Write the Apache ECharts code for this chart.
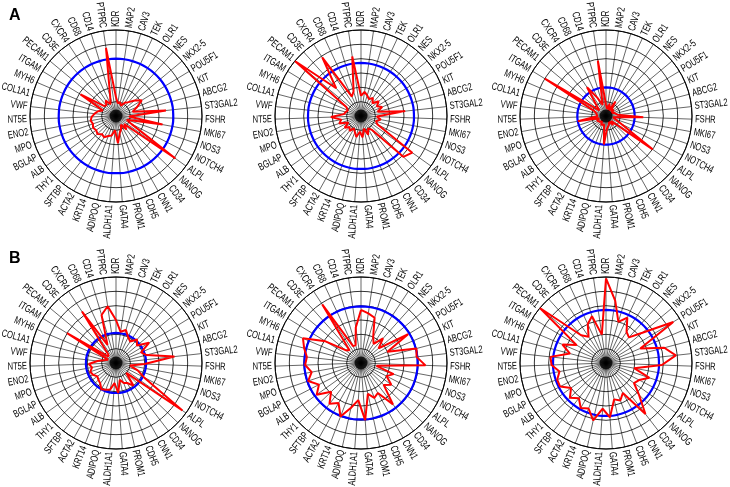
<!DOCTYPE html>
<html><head><meta charset="utf-8">
<script src="https://cdn.jsdelivr.net/npm/echarts@6/dist/echarts.min.js"></script>
<style>html,body{margin:0;padding:0;background:#fff}#c{width:730px;height:487px}</style>
</head><body><div id="c"></div>
<script>
// Categories (clockwise from top)
const genes = ['KDR','MAP2','CAV3','TEK','OLR1','NES','NKX2-5','POU5F1','KIT','ABCG2','ST3GAL2','FSHR','MKI67','NOS3','NOTCH4','ALPL','NANOG','CD34','CNN1','CDH5','PROM1','GATA4','ALDH1A1','ADIPOQ','KRT14','ACTA2','SFTBP','THY1','ALB','BGLAP','MPO','ENO2','NT5E','VWF','COL1A1','MYH6','ITGAM','PECAM1','CD3E','CXCR4','CD68','CD14','PTPRC'];

// Series values (radial units 0-6), one per gene
const panelA1 = [1.3,0.9,1.0,0.8,1.1,1.3,1.7,2.1,1.6,1.2,3.5,0.9,3.3,0.8,1.2,5.1,0.8,1.2,0.7,1.0,1.2,1.9,1.0,1.4,1.5,1.7,1.6,1.8,1.7,1.8,1.7,1.8,1.7,1.5,1.3,1.0,2.9,1.1,1.0,1.3,0.9,1.4,4.8];
const panelA2 = [1.4,1.7,1.5,1.3,1.5,1.2,1.6,1.3,1.6,1.2,3.1,1.1,1.4,1.1,1.3,4.4,4.1,1.2,1.0,1.4,0.9,1.5,1.1,1.5,1.2,1.0,1.3,1.1,1.4,1.0,1.6,1.4,2.1,1.2,1.1,1.0,1.2,6.0,2.6,4.9,1.5,1.8,4.2];
const panelA3 = [0.8,0.5,0.9,0.4,1.2,0.5,0.7,0.4,0.6,0.5,0.8,2.6,0.5,0.7,0.6,4.0,0.5,0.8,0.4,0.6,0.5,0.9,2.0,0.6,0.5,0.7,0.4,0.6,0.5,0.7,0.5,2.0,0.6,0.5,0.7,0.9,5.0,0.6,1.0,2.4,1.4,0.8,3.9];
const panelB1 = [3.0,2.2,2.4,2.0,1.8,2.2,1.9,2.7,1.9,2.2,4.1,2.0,1.0,1.6,2.2,5.7,1.0,2.0,1.6,1.5,1.2,2.1,1.4,1.9,2.0,2.1,1.8,1.7,1.6,1.8,1.9,1.7,1.9,1.3,0.8,0.6,4.0,0.7,0.8,4.3,1.4,3.5,4.0];
const panelB2 = [3.7,3.5,3.3,2.0,1.6,2.3,1.6,3.85,2.0,4.0,3.9,4.5,1.1,2.4,2.0,2.6,2.2,3.65,2.4,2.6,2.2,4.0,2.6,3.2,4.0,3.2,3.6,2.9,3.8,3.3,3.9,3.5,3.9,3.8,4.1,4.4,2.9,1.4,1.2,4.9,1.3,1.3,2.5];
const panelB3 = [5.9,4.4,3.0,3.5,2.6,2.4,3.3,5.5,2.6,4.2,4.9,3.9,2.0,3.2,2.6,2.4,3.2,4.5,2.4,2.8,2.6,3.8,3.2,4.1,3.4,3.6,3.1,3.5,3.0,3.6,3.6,3.3,3.8,3.9,2.6,3.3,2.4,6.0,2.6,2.2,3.0,3.4,2.0];

// Reference (blue circle) level per panel
const blueRefs = [4.0, 3.7, 2.0, 2.1, 3.95, 3.7];
const panelLetters = ['A', 'B'];

const panels = [panelA1, panelA2, panelA3, panelB1, panelB2, panelB3];
const N = genes.length;
const RMAX = 6;
const LABEL_R = 6.22;

const chart = echarts.init(document.getElementById('c'), null, {renderer: 'canvas'});
const centers = [[116,116],[361,116],[606,116],[116,363],[361,363],[606,363]];

const polar = [], angleAxis = [], radiusAxis = [], series = [];
panels.forEach((vals, k) => {
  polar.push({center: centers[k], radius: 86});
  angleAxis.push({
    polarIndex: k, type: 'value', min: 0, max: N, interval: 1,
    startAngle: 90, clockwise: true,
    axisLine: {show: true, lineStyle: {color: '#000', width: 1}},
    axisTick: {show: false}, axisLabel: {show: false},
    splitLine: {show: true, lineStyle: {color: '#000', width: 0.6}}
  });
  radiusAxis.push({
    polarIndex: k, type: 'value', min: 0, max: RMAX, interval: 1,
    axisLine: {show: false}, axisTick: {show: false}, axisLabel: {show: false},
    splitLine: {show: true, lineStyle: {color: '#000', width: 0.8}}
  });
  // blue reference circle
  const blue = [];
  for (let i = 0; i <= N; i++) blue.push([blueRefs[k], i]);
  series.push({type: 'line', coordinateSystem: 'polar', polarIndex: k, data: blue,
    symbol: 'none', smooth: true, lineStyle: {color: '#0000ff', width: 2.2}, z: 3, silent: true});
  // red profile
  const red = vals.map((v, i) => [v, i]);
  red.push([vals[0], N]);
  series.push({type: 'line', coordinateSystem: 'polar', polarIndex: k, data: red,
    symbol: 'none', lineStyle: {color: '#ff0000', width: 2}, z: 4, silent: true});
  // center dot
  series.push({type: 'scatter', coordinateSystem: 'polar', polarIndex: k, data: [[0, 0]],
    symbol: 'circle', symbolSize: 13, itemStyle: {color: '#000'}, z: 5, silent: true});
  // rotated gene labels
  series.push({type: 'custom', coordinateSystem: 'polar', polarIndex: k, silent: true, z: 6,
    data: genes.map((g, i) => [LABEL_R, i]),
    renderItem: function (params, api) {
      const i = api.value(1);
      const p = api.coord([api.value(0), i]);
      const th = i / N * Math.PI * 2;
      let rot, align;
      if (th <= Math.PI) { rot = Math.PI / 2 - th; align = 'left'; }
      else { rot = 3 * Math.PI / 2 - th; align = 'right'; }
      return {type: 'text', x: p[0], y: p[1], rotation: rot, scaleX: 0.72,
        style: {text: genes[i], fill: '#000', font: '10.5px "Liberation Sans", Arial, sans-serif',
          align: align, verticalAlign: 'middle'}};
    }
  });
});

chart.setOption({
  animation: false,
  backgroundColor: '#fff',
  title: [
    {text: panelLetters[0], left: 4, top: 3, textStyle: {fontSize: 16, fontWeight: 'bold', fontFamily: 'Liberation Sans', color: '#000'}},
    {text: panelLetters[1], left: 4, top: 246, textStyle: {fontSize: 16, fontWeight: 'bold', fontFamily: 'Liberation Sans', color: '#000'}}
  ],
  polar, angleAxis, radiusAxis, series
});
</script></body></html>
